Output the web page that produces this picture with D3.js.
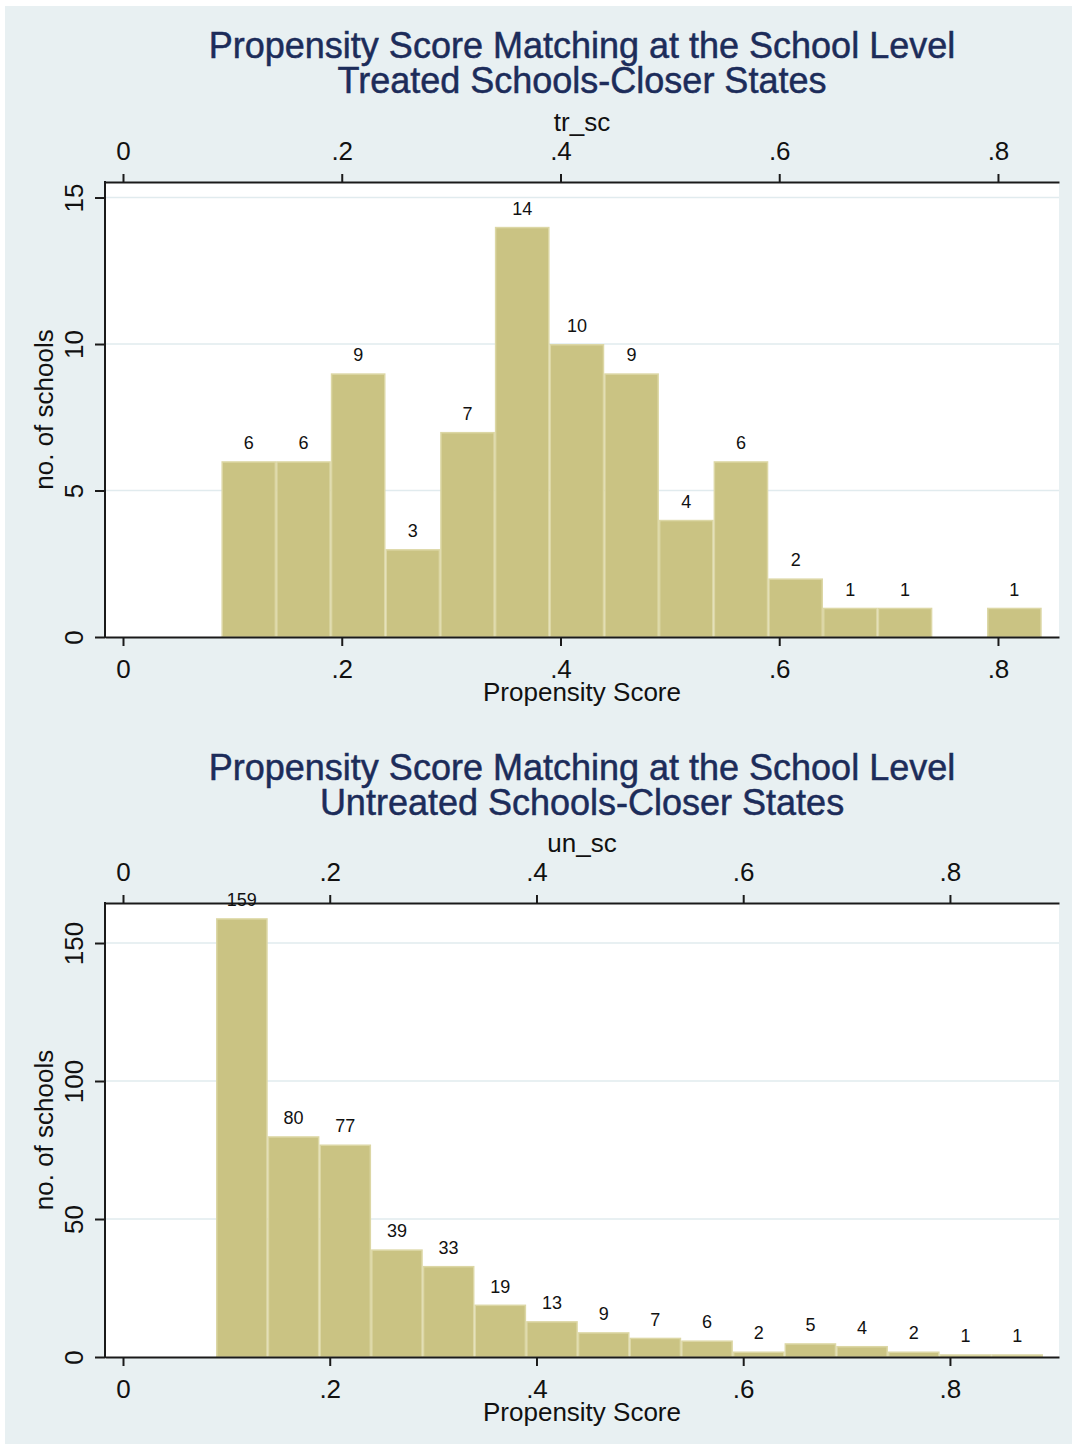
<!DOCTYPE html>
<html>
<head>
<meta charset="utf-8">
<script src="https://cdn.jsdelivr.net/npm/d3@7"></script>
<style>
  html, body { margin: 0; padding: 0; background: #ffffff; }
  svg { display: block; }
  text { font-family: "Liberation Sans", Arial, sans-serif; }
</style>
</head>
<body>
<svg id="chart" width="1072" height="1446"></svg>
<script>
// ---- Data ----------------------------------------------------------------
// Treated schools: histogram bin lower edges and counts
const trBinLower = [0.09, 0.14, 0.19, 0.24, 0.29, 0.34, 0.39, 0.44, 0.49, 0.54, 0.59, 0.64, 0.69, 0.74, 0.79];
const trCounts   = [6, 6, 9, 3, 7, 14, 10, 9, 4, 6, 2, 1, 1, 0, 1];

// Untreated schools: histogram bin lower edges and counts
const unBinLower = [0.09, 0.14, 0.19, 0.24, 0.29, 0.34, 0.39, 0.44, 0.49, 0.54, 0.59, 0.64, 0.69, 0.74, 0.79, 0.84];
const unCounts   = [159, 80, 77, 39, 33, 19, 13, 9, 7, 6, 2, 5, 4, 2, 1, 1];

const binWidth = 0.05;

// Axis ticks
const xTickValues = [0, 0.2, 0.4, 0.6, 0.8];
const xTickLabels = ["0", ".2", ".4", ".6", ".8"];
const trYTicks = [0, 5, 10, 15];
const unYTicks = [0, 50, 100, 150];

// Text
const titleLine1 = "Propensity Score Matching at the School Level";
const trTitleLine2 = "Treated Schools-Closer States";
const unTitleLine2 = "Untreated Schools-Closer States";
const trTopAxisTitle = "tr_sc";
const unTopAxisTitle = "un_sc";
const xAxisTitle = "Propensity Score";
const yAxisTitle = "no. of schools";

// ---- Styles --------------------------------------------------------------
const COLORS = {
  page: "#e8f0f2",
  plot: "#ffffff",
  grid: "#e1ebee",
  bar: "#cac383",
  barEdge: "#dcd7a5",
  axis: "#1a1a1a",
  title: "#1c2c5a",
  text: "#111111"
};

const svg = d3.select("#chart");
const W = 1072, H = 1446;

svg.append("rect").attr("width", W).attr("height", H).attr("fill", "#ffffff");
svg.append("rect")
  .attr("x", 5).attr("y", 6)
  .attr("width", W - 5).attr("height", H - 8)
  .attr("fill", COLORS.page);

// ---- One histogram panel -------------------------------------------------
function drawPanel(p) {
  const g = svg.append("g");

  const x = d3.scaleLinear().domain(p.xDomain).range([p.left, p.right]);
  const y = d3.scaleLinear().domain([0, p.yMax]).range([p.bottom, p.top]);
  const midX = (p.left + p.right) / 2;

  // two-line title
  [titleLine1, p.title2].forEach((t, i) => {
    g.append("text")
      .attr("x", midX).attr("y", p.titleY + i * 35)
      .attr("text-anchor", "middle")
      .attr("font-size", 36)
      .attr("fill", COLORS.title)
      .attr("stroke", COLORS.title).attr("stroke-width", 0.5)
      .text(t);
  });

  // plot region
  g.append("rect")
    .attr("x", p.left).attr("y", p.top)
    .attr("width", p.right - p.left).attr("height", p.bottom - p.top)
    .attr("fill", COLORS.plot);

  // horizontal grid lines
  g.append("g").selectAll("line")
    .data(p.yTicks.filter(d => d > 0))
    .join("line")
    .attr("x1", p.left).attr("x2", p.right)
    .attr("y1", d => y(d)).attr("y2", d => y(d))
    .attr("stroke", COLORS.grid).attr("stroke-width", 1.5);

  // bars
  const bins = p.lower.map((lo, i) => ({ x0: lo, x1: lo + binWidth, n: p.counts[i] }))
    .filter(b => b.n > 0);

  g.append("g").selectAll("rect")
    .data(bins)
    .join("rect")
    .attr("x", d => x(d.x0) + 0.75)
    .attr("width", d => x(d.x1) - x(d.x0) - 1.5)
    .attr("y", d => y(d.n) + 0.75)
    .attr("height", d => y(0) - y(d.n) - 0.75)
    .attr("fill", COLORS.bar)
    .attr("stroke", COLORS.barEdge)
    .attr("stroke-width", 1.5);

  // axes
  const styleAxis = sel => {
    sel.selectAll("path, line").attr("stroke", COLORS.axis).attr("stroke-width", 2);
    sel.selectAll("text").attr("fill", COLORS.text).attr("font-size", 26)
      .attr("font-family", "'Liberation Sans', Arial, sans-serif");
  };

  const bottomAxis = g.append("g")
    .attr("transform", `translate(0,${p.bottom})`)
    .call(d3.axisBottom(x).tickValues(xTickValues)
      .tickFormat((d, i) => xTickLabels[i]).tickSize(9).tickSizeOuter(0));
  styleAxis(bottomAxis);
  bottomAxis.selectAll("text").attr("y", 41).attr("dy", null);

  const topAxis = g.append("g")
    .attr("transform", `translate(0,${p.top})`)
    .call(d3.axisTop(x).tickValues(xTickValues)
      .tickFormat((d, i) => xTickLabels[i]).tickSize(8).tickSizeOuter(0));
  styleAxis(topAxis);
  topAxis.selectAll("text").attr("y", -22).attr("dy", null);

  const leftAxis = g.append("g")
    .attr("transform", `translate(${p.left},0)`)
    .call(d3.axisLeft(y).tickValues(p.yTicks).tickSize(10).tickSizeOuter(0));
  styleAxis(leftAxis);
  leftAxis.selectAll("text")
    .attr("x", null).attr("dy", null)
    .attr("text-anchor", "middle")
    .attr("transform", "translate(-22,0) rotate(-90)");
  leftAxis.select(".domain").attr("d", `M0,${p.top - 1}V${p.bottom + 1}`);

  // axis titles
  g.append("text")
    .attr("x", midX).attr("y", p.bottom + 64)
    .attr("text-anchor", "middle")
    .attr("font-size", 26).attr("fill", COLORS.text)
    .text(xAxisTitle);
  g.append("text")
    .attr("x", midX).attr("y", p.top - 51)
    .attr("text-anchor", "middle")
    .attr("font-size", 26).attr("fill", COLORS.text)
    .text(p.topTitle);
  g.append("text")
    .attr("transform", `translate(53,${(p.top + p.bottom) / 2}) rotate(-90)`)
    .attr("text-anchor", "middle")
    .attr("font-size", 26).attr("fill", COLORS.text)
    .text(yAxisTitle);

  // count labels above the bars
  g.append("g").selectAll("text")
    .data(bins)
    .join("text")
    .attr("x", d => (x(d.x0) + x(d.x1)) / 2)
    .attr("y", d => y(d.n) - 12)
    .attr("text-anchor", "middle")
    .attr("font-size", 18).attr("fill", COLORS.text)
    .text(d => d.n);
}

drawPanel({
  title2: trTitleLine2, topTitle: trTopAxisTitle,
  lower: trBinLower, counts: trCounts, yTicks: trYTicks,
  titleY: 58,
  left: 105, right: 1059, top: 182, bottom: 637,
  xDomain: [-0.01646, 0.8558], yMax: 15.53
});

drawPanel({
  title2: unTitleLine2, topTitle: unTopAxisTitle,
  lower: unBinLower, counts: unCounts, yTicks: unYTicks,
  titleY: 780,
  left: 105, right: 1059, top: 903, bottom: 1357,
  xDomain: [-0.01741, 0.9055], yMax: 164.5
});
</script>
</body>
</html>
